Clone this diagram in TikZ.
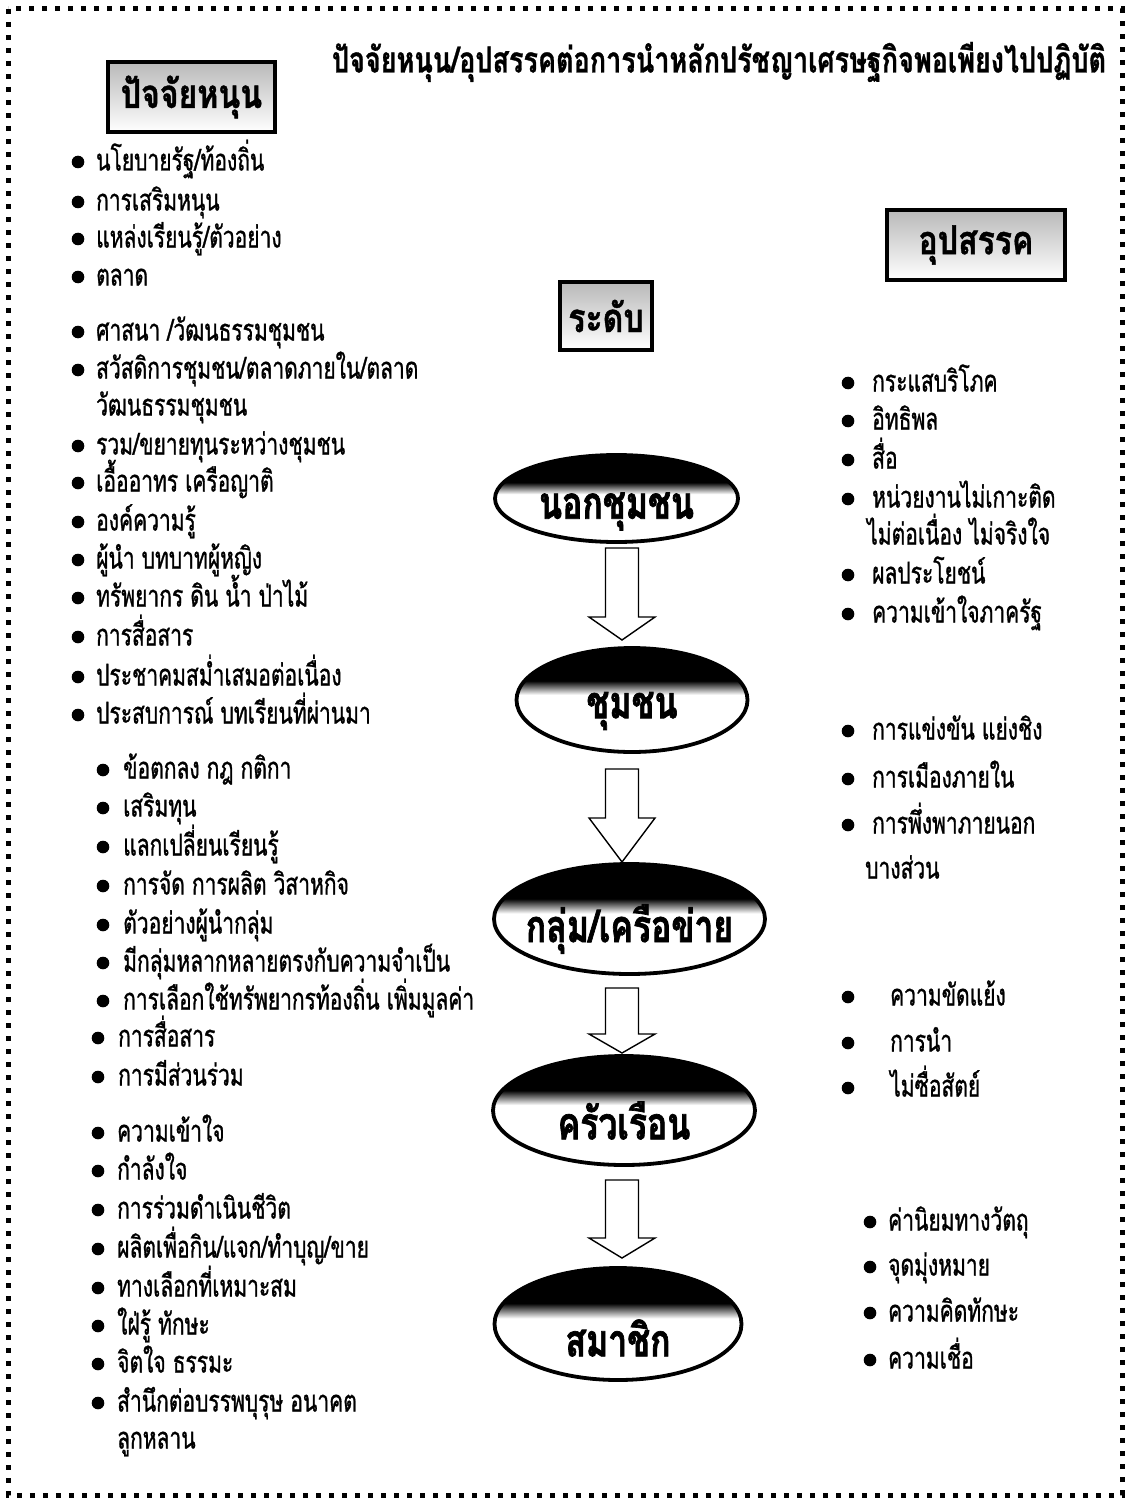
\documentclass[tikz,border=0pt]{standalone}
\usepackage{fontspec}
\newfontfamily\thai[Script=Thai, FakeStretch=0.70, FakeBold=1]{Loma}
\newfontfamily\thaititle[Script=Thai, FakeStretch=0.75, FakeBold=0.8]{Loma}
\newfontfamily\thaibold[Script=Thai, FakeStretch=0.80, FakeBold=1]{Loma}
\newfontfamily\thaiell[Script=Thai, FakeStretch=0.75, FakeBold=1.5]{Loma}
\usetikzlibrary{shapes.geometric, calc}
\newcommand\bitem[5]{\fill (#2,-#4) circle (6.3); \node[litem] (#1) at (#3,-#4-8.5) {#5};}
\newcommand\citem[4]{\node[litem] (#1) at (#2,-#3-8.5) {#4};}
\newcommand\barrow[5]{%
 \draw[line width=1.4pt, fill=white, line join=miter] let \p1=(#1.south), \p2=(#2.north) in
   (605.5pt,\y1-#3pt) -- (605.5pt,\y2+#4pt+#5pt) -- (589pt,\y2+#4pt+#5pt) -- (622pt,\y2+#4pt)
   -- (655pt,\y2+#4pt+#5pt) -- (638.5pt,\y2+#4pt+#5pt) -- (638.5pt,\y1-#3pt) -- cycle;}
\begin{document}
\begin{tikzpicture}[x=1pt, y=1pt,
  litem/.style={anchor=base west, inner sep=0pt, font=\thai\fontsize{30}{32}\selectfont},
  hbox/.style={draw, line width=4.5pt, rectangle, inner sep=0pt, outer sep=0pt,
    top color=gray!55, middle color=white, bottom color=white,
    font=\thaibold\bfseries\fontsize{40}{44}\selectfont},
  ell/.style={ellipse, draw, line width=3.8pt, inner sep=0pt, outer sep=0pt, fill=white,
    path picture={
      \coordinate (pa) at (path picture bounding box.north west);
      \coordinate (pb) at (path picture bounding box.south east);
      \fill[black] (pa) rectangle ($(pb|-pa)!0.32!(pb)$);
      \shade[top color=black, bottom color=white] ($(pa)!0.315!(pa|-pb)$) rectangle ($(pb|-pa)!0.45!(pb)$);
    }},
  etext/.style={inner sep=0pt, font=\thaiell\bfseries\fontsize{45}{48}\selectfont}
]
\useasboundingbox (0,0) rectangle (1127,-1506);
\fill[white] (0,0) rectangle (1127,-1506);
\draw[line width=5pt, dash pattern=on 5pt off 8pt] (8,-9) rectangle (1122,-1495);

% title
\node[inner sep=0pt, font=\thaititle\bfseries\fontsize{36}{40}\selectfont] (title) at (719,-62)
  {ปัจจัยหนุน/อุปสรรคต่อการนำหลักปรัชญาเศรษฐกิจพอเพียงไปปฏิบัติ};

% headers
\node[hbox, minimum width=167, minimum height=70] (hpos) at (191.5,-97) {ปัจจัยหนุน};
\node[hbox, minimum width=178, minimum height=70] (hneg) at (976,-245) {อุปสรรค};
\node[hbox, line width=3.5pt, minimum width=92, minimum height=68] (hlev) at (606,-316) {ระดับ};

% levels
\node[ell, minimum width=243, minimum height=87] (e1) at (616.5,-498.5) {};
\node[etext] (t1) at ($(e1.center)+(0,-13)$) {นอกชุมชน};
\node[ell, minimum width=231, minimum height=104] (e2) at (632,-700) {};
\node[etext] (t2) at ($(e2.center)+(0,-11)$) {ชุมชน};
\node[ell, minimum width=271, minimum height=110] (e3) at (629.5,-919) {};
\node[etext] (t3) at ($(e3.center)+(0,-10)$) {กลุ่ม/เครือข่าย};
\node[ell, minimum width=262, minimum height=109] (e4) at (624,-1110.5) {};
\node[etext] (t4) at ($(e4.center)+(0,-10)$) {ครัวเรือน};
\node[ell, minimum width=247, minimum height=112] (e5) at (618,-1324) {};
\node[etext] (t5) at ($(e5.center)+(0,-14)$) {สมาชิก};

\barrow{e1}{e2}{6}{8}{23}
\barrow{e2}{e3}{17}{2}{44}
\barrow{e3}{e4}{14}{3}{19}
\barrow{e4}{e5}{15}{10}{20}

% left group 1
\bitem{a1}{78}{96}{162}{นโยบายรัฐ/ท้องถิ่น}
\bitem{a2}{78}{96}{202}{การเสริมหนุน}
\bitem{a3}{78}{96}{239}{แหล่งเรียนรู้/ตัวอย่าง}
\bitem{a4}{78}{96}{277}{ตลาด}
\bitem{a5}{78}{96}{332}{ศาสนา /วัฒนธรรมชุมชน}
\bitem{a6}{78}{96}{370}{สวัสดิการชุมชน/ตลาดภายใน/ตลาด}
\citem{a6b}{96}{407}{วัฒนธรรมชุมชน}
\bitem{a7}{78}{96}{446}{รวม/ขยายทุนระหว่างชุมชน}
\bitem{a8}{78}{96}{483}{เอื้ออาทร เครือญาติ}
\bitem{a9}{78}{96}{522}{องค์ความรู้}
\bitem{a10}{78}{96}{560}{ผู้นำ บทบาทผู้หญิง}
\bitem{a11}{78}{96}{598}{ทรัพยากร ดิน น้ำ ป่าไม้}
\bitem{a12}{78}{96}{637}{การสื่อสาร}
\bitem{a13}{78}{96}{677}{ประชาคมสม่ำเสมอต่อเนื่อง}
\bitem{a14}{78}{96}{715}{ประสบการณ์ บทเรียนที่ผ่านมา}

% left group 2
\bitem{b1}{103}{123}{770}{ข้อตกลง กฎ กติกา}
\bitem{b2}{103}{123}{808}{เสริมทุน}
\bitem{b3}{103}{123}{847}{แลกเปลี่ยนเรียนรู้}
\bitem{b4}{103}{123}{886}{การจัด การผลิต วิสาหกิจ}
\bitem{b5}{103}{123}{925}{ตัวอย่างผู้นำกลุ่ม}
\bitem{b6}{103}{123}{963}{มีกลุ่มหลากหลายตรงกับความจำเป็น}
\bitem{b7}{103}{123}{1001}{การเลือกใช้ทรัพยากรท้องถิ่น เพิ่มมูลค่า}
\bitem{b8}{98}{118}{1038}{การสื่อสาร}
\bitem{b9}{98}{118}{1077}{การมีส่วนร่วม}

% left group 3
\bitem{c1}{98}{117}{1133}{ความเข้าใจ}
\bitem{c2}{98}{117}{1171}{กำลังใจ}
\bitem{c3}{98}{117}{1210}{การร่วมดำเนินชีวิต}
\bitem{c4}{98}{117}{1249}{ผลิตเพื่อกิน/แจก/ทำบุญ/ขาย}
\bitem{c5}{98}{117}{1288}{ทางเลือกที่เหมาะสม}
\bitem{c6}{98}{117}{1326}{ใฝ่รู้ ทักษะ}
\bitem{c7}{98}{117}{1364}{จิตใจ ธรรมะ}
\bitem{c8}{98}{117}{1403}{สำนึกต่อบรรพบุรุษ อนาคต}
\citem{c8b}{117}{1440}{ลูกหลาน}

% right groups
\bitem{r1}{848}{872}{383}{กระแสบริโภค}
\bitem{r2}{848}{872}{421}{อิทธิพล}
\bitem{r3}{848}{872}{460}{สื่อ}
\bitem{r4}{848}{872}{499}{หน่วยงานไม่เกาะติด}
\citem{r4b}{867}{536}{ไม่ต่อเนื่อง ไม่จริงใจ}
\bitem{r5}{848}{872}{575}{ผลประโยชน์}
\bitem{r6}{848}{872}{614}{ความเข้าใจภาครัฐ}

\bitem{s1}{848}{872}{731}{การแข่งขัน แย่งชิง}
\bitem{s2}{848}{872}{779}{การเมืองภายใน}
\bitem{s3}{848}{872}{825}{การพึ่งพาภายนอก}
\citem{s3b}{865}{870}{บางส่วน}

\bitem{u1}{848}{890}{997}{ความขัดแย้ง}
\bitem{u2}{848}{890}{1043}{การนำ}
\bitem{u3}{848}{890}{1088}{ไม่ซื่อสัตย์}

\bitem{v1}{870}{888}{1222}{ค่านิยมทางวัตถุ}
\bitem{v2}{870}{888}{1267}{จุดมุ่งหมาย}
\bitem{v3}{870}{888}{1313}{ความคิดทักษะ}
\bitem{v4}{870}{888}{1360}{ความเชื่อ}
\end{tikzpicture}
\end{document}
